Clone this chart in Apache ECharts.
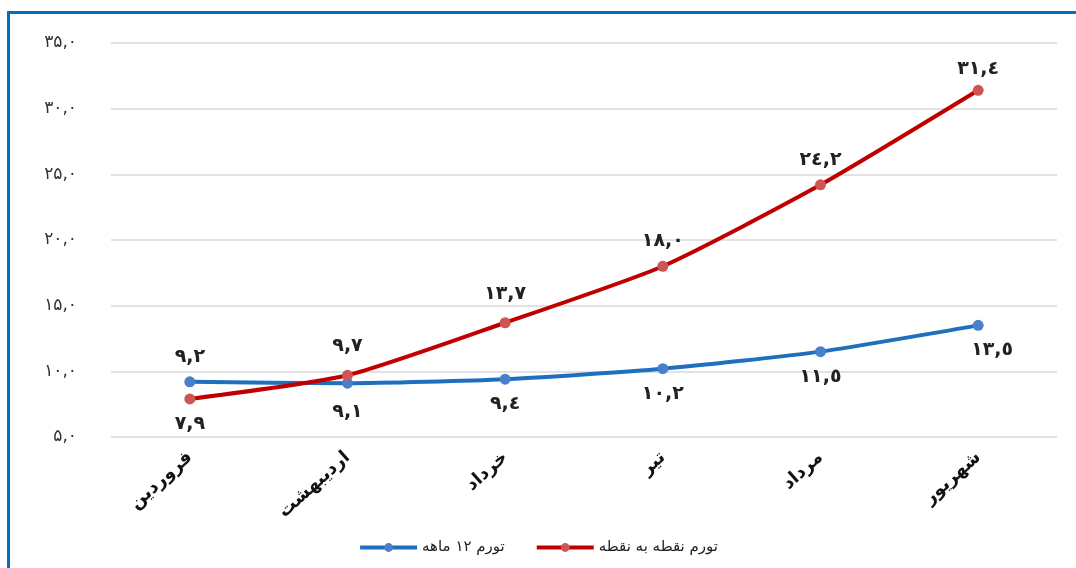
<!DOCTYPE html>
<html>
<head>
<meta charset="utf-8">
<script src="https://cdn.jsdelivr.net/npm/echarts@6/dist/echarts.min.js"></script>
<style>
html,body{margin:0;padding:0;background:#fff;}
#c{width:1076px;height:568px;}
</style>
</head>
<body>
<div id="c"></div>
<script>
const categories = ['فروردین', 'اردیبهشت', 'خرداد', 'تیر', 'مرداد', 'شهریور'];
const seriesNames = ['تورم ۱۲ ماهه', 'تورم نقطه به نقطه'];
const annual = [9.2, 9.1, 9.4, 10.2, 11.5, 13.5];
const pointToPoint = [7.9, 9.7, 13.7, 18.0, 24.2, 31.4];
const yTicks = [5, 10, 15, 20, 25, 30, 35];

const axisDigits = ['۰','۱','۲','۳','۴','۵','۶','۷','۸','۹'];
const labelDigits = ['٠','١','٢','٣','٤','٥','٦','٧','٨','٩'];
function toFa(v, digits){
  return v.toFixed(1).replace(/\d/g, d => digits[+d]).replace('.', ',');
}

const chart = echarts.init(document.getElementById('c'));
const lblFont = {fontFamily:'DejaVu Sans', fontWeight:'bold', fontSize:19, color:'#222'};

chart.setOption({
  backgroundColor:'#fff',
  animation:false,
  graphic:[
    {type:'rect', shape:{x:7, y:11, width:1069, height:3}, style:{fill:'#0070C0'}},
    {type:'rect', shape:{x:7, y:11, width:3, height:557}, style:{fill:'#0070C0'}}
  ],
  grid:{left:111, right:19, top:43, bottom:131},
  legend:{
    bottom:8, left:'center',
    itemWidth:57, itemHeight:11, itemGap:30,
    lineStyle:{width:4},
    textStyle:{fontFamily:'DejaVu Sans', fontSize:15, color:'#222'},
    data:seriesNames
  },
  xAxis:{
    type:'category', data:categories, boundaryGap:true,
    axisLine:{show:false}, axisTick:{show:false},
    axisLabel:{rotate:42, margin:18, fontFamily:'DejaVu Sans', fontWeight:'bold', fontSize:18, color:'#111', interval:0}
  },
  yAxis:{
    type:'value', min:yTicks[0], max:yTicks[yTicks.length-1], interval:5,
    axisLine:{show:false}, axisTick:{show:false},
    splitLine:{lineStyle:{color:'#d9d9d9', width:1.5}},
    axisLabel:{margin:34, fontFamily:'DejaVu Sans', fontSize:17, color:'#333', formatter:v => toFa(v, axisDigits)}
  },
  series:[
    {
      name:seriesNames[0], type:'line', smooth:0.2,
      symbol:'circle', symbolSize:11,
      lineStyle:{color:'#1F6FBF', width:4},
      itemStyle:{color:'#4A7FC9'},
      label:{show:true, ...lblFont, distance:10,
        position:'bottom', formatter:p => toFa(p.value, labelDigits)},
      data: annual.map((v,i)=>({value:v, label:{position: i===0 ? 'top' : 'bottom', offset: i===5 ? [14,0] : (i===1 ? [0,4] : [0,0])}}))
    },
    {
      name:seriesNames[1], type:'line', smooth:0.2,
      symbol:'circle', symbolSize:11,
      lineStyle:{color:'#C00000', width:4},
      itemStyle:{color:'#CD5555'},
      label:{show:true, ...lblFont, distance:10,
        position:'top', formatter:p => toFa(p.value, labelDigits)},
      data: pointToPoint.map((v,i)=>({value:v, label:{position: i===0 ? 'bottom' : 'top', offset: (i===1||i===2) ? [0,-4] : (i===5 ? [0,4] : [0,0])}}))
    }
  ]
});
</script>
</body>
</html>
